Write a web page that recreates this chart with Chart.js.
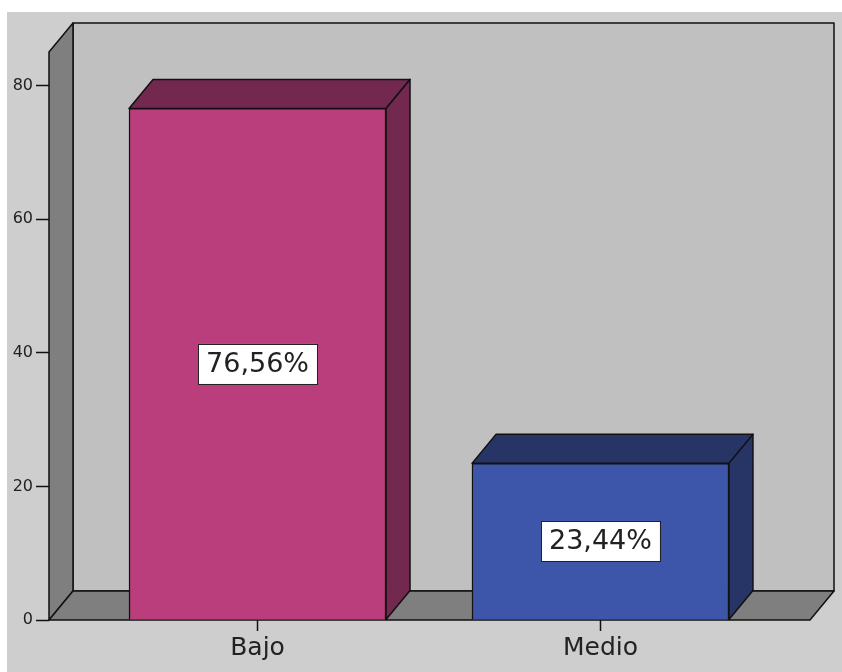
<!DOCTYPE html>
<html lang="es">
  <head>
    <meta charset="UTF-8" />
    <title>Nivel</title>
    <script src="https://cdn.jsdelivr.net/npm/chart.js@4/dist/chart.umd.min.js"></script>
    <style>
      body { margin: 0; background: #fff; }
      canvas { display: block; }
    </style>
  </head>
  <body>
    <canvas id="nivelChart" width="842" height="672"></canvas>
  </body>
  <script>
    const categories = ["Bajo", "Medio"];
    const percentages = [76.56, 23.44];
    const pctLabels = ["76,56%", "23,44%"];
    const yTicks = [0, 20, 40, 60, 80];

    const frontColors = ["#bb3e7c", "#3d56a9"];
    const shadeColors = ["#73284f", "#263466"];

    // depth of the 3D box (pixels, up-right)
    const DX = 24, DY = 29;

    function poly(ctx, pts, fill) {
      ctx.beginPath();
      ctx.moveTo(pts[0][0], pts[0][1]);
      for (let i = 1; i < pts.length; i++) ctx.lineTo(pts[i][0], pts[i][1]);
      ctx.closePath();
      ctx.fillStyle = fill;
      ctx.fill();
      ctx.stroke();
    }

    const box3d = {
      id: "box3d",
      beforeDraw(chart) {
        const ctx = chart.ctx;
        ctx.save();
        ctx.fillStyle = "#fff";
        ctx.fillRect(0, 0, chart.width, chart.height);
        ctx.fillStyle = "#cecece";
        ctx.fillRect(7, 12, chart.width - 7, chart.height - 12);
        ctx.restore();
      },
      beforeDatasetsDraw(chart) {
        const {ctx, chartArea: a} = chart;
        ctx.save();
        ctx.strokeStyle = "#111";
        ctx.lineWidth = 1.5;
        ctx.lineJoin = "round";
        // back wall
        poly(ctx, [[a.left + DX, a.top - DY], [a.right + DX, a.top - DY],
                   [a.right + DX, a.bottom - DY], [a.left + DX, a.bottom - DY]], "#c0c0c0");
        // left wall
        poly(ctx, [[a.left, a.top], [a.left + DX, a.top - DY],
                   [a.left + DX, a.bottom - DY], [a.left, a.bottom]], "#7f7f7f");
        // floor
        poly(ctx, [[a.left, a.bottom], [a.left + DX, a.bottom - DY],
                   [a.right + DX, a.bottom - DY], [a.right, a.bottom]], "#7f7f7f");
        // top and side faces of the bars
        chart.getDatasetMeta(0).data.forEach((bar, i) => {
          const l = bar.x - bar.width / 2, r = bar.x + bar.width / 2;
          const t = bar.y, b = bar.base;
          poly(ctx, [[l, t], [l + DX, t - DY], [r + DX, t - DY], [r, t]], shadeColors[i]);
          poly(ctx, [[r, t], [r + DX, t - DY], [r + DX, b - DY], [r, b]], shadeColors[i]);
        });
        ctx.restore();
      },
      afterDatasetsDraw(chart) {
        const ctx = chart.ctx;
        ctx.save();
        ctx.font = "27px 'DejaVu Sans'";
        ctx.textAlign = "center";
        ctx.textBaseline = "middle";
        chart.getDatasetMeta(0).data.forEach((bar, i) => {
          const cy = (bar.y + bar.base) / 2;
          const w = ctx.measureText(pctLabels[i]).width + 16;
          const h = 40;
          ctx.fillStyle = "#fff";
          ctx.strokeStyle = "#222";
          ctx.lineWidth = 1;
          ctx.fillRect(bar.x - w / 2, cy - h / 2, w, h);
          ctx.strokeRect(Math.round(bar.x - w / 2) + 0.5, Math.round(cy - h / 2) + 0.5, Math.round(w), h);
          ctx.fillStyle = "#222";
          ctx.fillText(pctLabels[i], bar.x, cy + 1);
        });
        ctx.restore();
      },
    };

    const ctx = document.getElementById("nivelChart").getContext("2d");
    new Chart(ctx, {
      type: "bar",
      data: {
        datasets: [{
          data: percentages.map((v, i) => ({x: i, y: v})),
          backgroundColor: frontColors,
          borderColor: "#111",
          borderWidth: 1.5,
          borderSkipped: "bottom",
          barThickness: 257,
        }],
      },
      options: {
        responsive: false,
        animation: false,
        layout: {padding: {top: 52, right: 32, left: 0, bottom: 0}},
        plugins: {legend: {display: false}, tooltip: {enabled: false}},
        scales: {
          x: {
            type: "linear",
            offset: false,
            min: -0.608,
            max: 1.611,
            afterBuildTicks: (s) => { s.ticks = categories.map((c, i) => ({value: i})); },
            afterFit: (s) => { s.height = 52; },
            grid: {offset: false, drawOnChartArea: false, tickLength: 11, color: "#111", tickWidth: 1.5},
            border: {display: false},
            ticks: {
              callback: (v) => categories[v],
              font: {family: "DejaVu Sans", size: 25},
              color: "#222",
              padding: 2,
              maxRotation: 0,
            },
          },
          y: {
            min: 0,
            max: 85,
            afterBuildTicks: (s) => { s.ticks = yTicks.map((v) => ({value: v})); },
            afterFit: (s) => { s.width = 49; },
            grid: {drawOnChartArea: false, tickLength: 13, color: "#111", tickWidth: 1.5},
            border: {display: false},
            ticks: {
              font: {family: "DejaVu Sans", size: 16},
              color: "#222",
              padding: 3,
            },
          },
        },
      },
      plugins: [box3d],
    });
  </script>
</html>
